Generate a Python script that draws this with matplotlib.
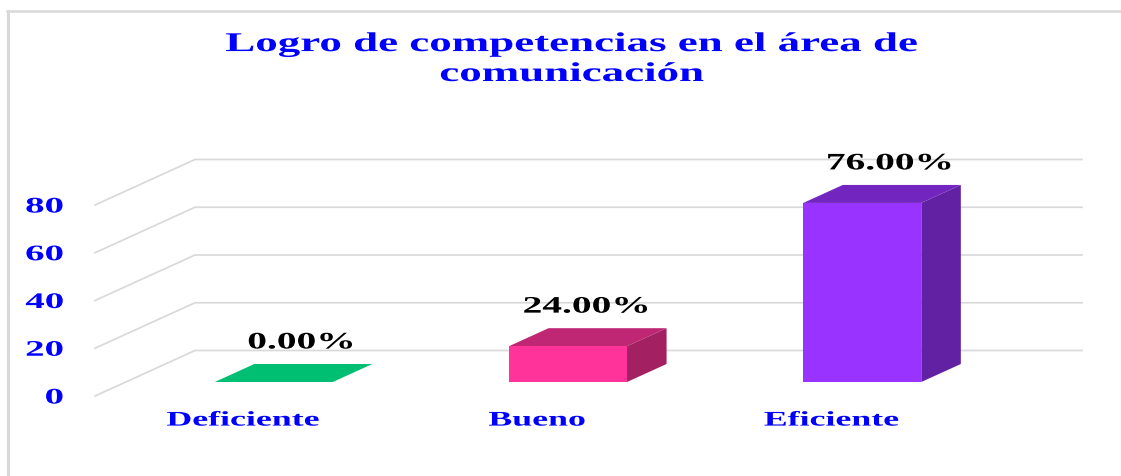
import matplotlib
matplotlib.use("Agg")
import matplotlib.pyplot as plt
from matplotlib.patches import Polygon
from matplotlib.lines import Line2D
from matplotlib.patheffects import AbstractPathEffect
from matplotlib.transforms import Affine2D

title = "Logro de competencias en el área de\ncomunicación"
categories = ["Deficiente", "Bueno", "Eficiente"]
bar_heights = [0, 15, 75]          # heights as drawn in the picture
value_labels = ["0.00%", "24.00%", "76.00%"]
y_ticks = [0, 20, 40, 60, 80]
bar_colors = ["#00FF99", "#FF3399", "#9933FF"]

W, H = 1121, 476
PX_PER_CAT = 294.25
PX_PER_VAL = 191 / 80
DEPTH_X = 100 / PX_PER_CAT
DEPTH_Y = 45.5 / PX_PER_VAL
BLUE = "#0000FF"
GRID = "#D9D9D9"
FONT = "Liberation Serif"


class Stretch(AbstractPathEffect):
    """Widen glyph outlines horizontally around a pixel column."""
    def __init__(self, cx, sx):
        super().__init__()
        self.cx, self.sx = cx, sx

    def draw_path(self, renderer, gc, tpath, affine, rgbFace=None):
        t = affine + Affine2D().translate(-self.cx, 0).scale(self.sx, 1).translate(self.cx, 0)
        renderer.draw_path(gc, tpath, t, rgbFace)


def shade(c, f):
    r, g, b = matplotlib.colors.to_rgb(c)
    return (r * f, g * f, b * f)


def P(x, v, d=0.0):
    return (x + d * DEPTH_X, v + d * DEPTH_Y)


fig = plt.figure(figsize=(W / 100, H / 100), dpi=100, facecolor="white")
ax = fig.add_axes([95 / W, (H - 396) / H, 887 / W, 191 / H])
ax.set_facecolor("none")
ax.set_xlim(-(243 - 95) / PX_PER_CAT, (982 - 243) / PX_PER_CAT)
ax.set_ylim(0, 80)
for s in ax.spines.values():
    s.set_visible(False)

# outer frame (left and top only are visible in the crop)
fig.add_artist(Line2D([7.5 / W, 7.5 / W], [0, (H - 11) / H], color=GRID, lw=2.2))
fig.add_artist(Line2D([6.5 / W, 1], [(H - 11) / H, (H - 11) / H], color=GRID, lw=1.8))

# wall and floor gridlines
x0, x1 = ax.get_xlim()
for v in y_ticks:
    xs, ys = zip(P(x0, v, 0), P(x0, v, 1), P(x1, v, 1))
    ax.plot(xs, ys, color=GRID, lw=1.25, clip_on=False, zorder=1, solid_joinstyle="miter")

# 3-D bars
bw = 118 / PX_PER_CAT
d0, d1 = 14 / 45.5, 32 / 45.5
label_shift = [-12, -21, -12]
for i, (h, c, lab) in enumerate(zip(bar_heights, bar_colors, value_labels)):
    bottom = 0
    l, r = i - bw / 2, i + bw / 2
    top_face = [P(l, h, d0), P(r, h, d0), P(r, h, d1), P(l, h, d1)]
    ax.add_patch(Polygon(top_face, closed=True, fc=shade(c, 0.75), ec="none", clip_on=False, zorder=3))
    if h > 0:
        front = [P(l, bottom, d0), P(r, bottom, d0), P(r, h, d0), P(l, h, d0)]
        side = [P(r, bottom, d0), P(r, bottom, d1), P(r, h, d1), P(r, h, d0)]
        ax.add_patch(Polygon(side, closed=True, fc=shade(c, 0.64), ec="none", clip_on=False, zorder=3))
        ax.add_patch(Polygon(front, closed=True, fc=c, ec="none", clip_on=False, zorder=4))
    lx, ly = P(i, h, d1)
    px = ax.transData.transform((lx, ly))
    cx = px[0] + label_shift[i]
    ax.annotate(lab, xy=(lx, ly), xytext=(label_shift[i] * 0.72, 11.2), textcoords="offset points",
                ha="center", va="baseline", family=FONT, weight="bold", fontsize=17,
                color="black", zorder=5, annotation_clip=False,
                path_effects=[Stretch(cx, 1.67)])

# axis labels
ax.set_yticks(y_ticks)
ax.set_yticklabels([str(v) for v in y_ticks])
ax.set_xticks(range(len(categories)))
ax.set_xticklabels(categories)
ax.tick_params(axis="both", length=0)
ax.tick_params(axis="y", pad=22.3)
ax.tick_params(axis="x", pad=10.5)
for t in ax.get_yticklabels():
    t.set(family=FONT, weight="bold", fontsize=16, color=BLUE, path_effects=[Stretch(64, 1.75)])
for i, t in enumerate(ax.get_xticklabels()):
    cx = ax.transData.transform((i, 0))[0]
    t.set(family=FONT, weight="bold", fontsize=15, color=BLUE, path_effects=[Stretch(cx, 1.72)])

fig.text(571.5 / W, (H - 81) / H, title, ha="center", va="baseline", ma="center", family=FONT,
         weight="bold", fontsize=19.5, color=BLUE, linespacing=1.26,
         path_effects=[Stretch(571.5, 1.66)])

fig.savefig("out.png", dpi=100, facecolor="white")
